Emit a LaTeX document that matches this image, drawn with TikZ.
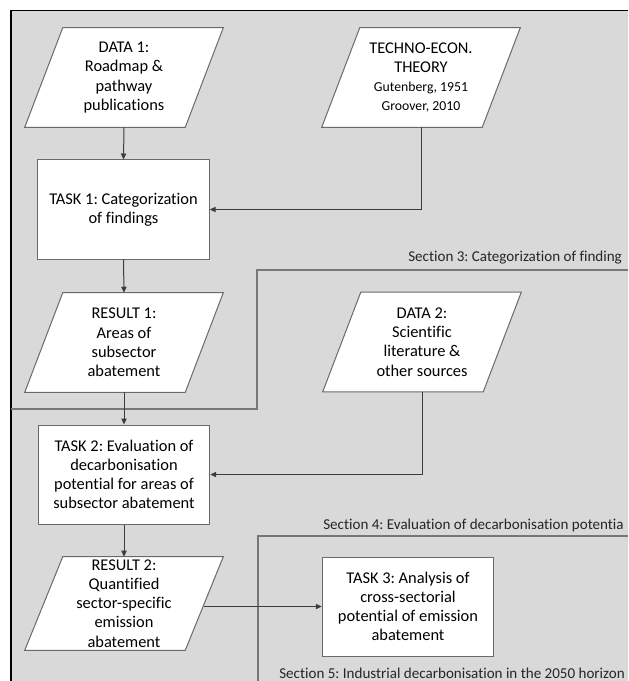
\documentclass[tikz,border=0pt]{standalone}
\usepackage{fontspec}
\setmainfont{Carlito}[Ligatures=NoCommon]
\usetikzlibrary{arrows.meta}
\definecolor{framefill}{HTML}{D9D9D9}
\definecolor{boxline}{HTML}{6A6A6A}
\definecolor{connline}{HTML}{3C3C3C}
\definecolor{secline}{HTML}{777777}
\newcommand\boxfont{\frenchspacing\fontsize{12.3}{14.4}\selectfont}
\newcommand\smallfnt{\fontsize{10.3}{11.6}\selectfont}
\newcommand\secfont{\frenchspacing\fontsize{11.3}{13.5}\selectfont}
\pgfdeclarelayer{bottomlayer}
\pgfdeclarelayer{shapelayer}
\pgfsetlayers{bottomlayer,shapelayer,main}
\newcommand\parashape[1]{%
  \begin{pgfonlayer}{shapelayer}
    \draw[draw=boxline,fill=white,line width=0.75pt]
      ([xshift=14.25pt]#1.north west) -- ([xshift=14.25pt]#1.north east) --
      ([xshift=-14.25pt]#1.south east) -- ([xshift=-14.25pt]#1.south west) -- cycle;
  \end{pgfonlayer}}
\begin{document}
\frenchspacing
\begin{tikzpicture}[x=0.75pt,y=-0.75pt,
  taskbox/.style={draw=boxline,fill=white,line width=0.75pt,minimum width=128.6pt,
    minimum height=74.25pt,align=center,font=\boxfont,inner sep=2pt},
  paranode/.style={minimum width=120pt,minimum height=74.25pt,inner sep=0pt,
    align=center,font=\boxfont},
  conn/.style={draw=connline,line width=0.75pt,-{Triangle[length=4.5pt,width=4pt]}},
  secpath/.style={draw=secline,line width=0.9pt},
  sectext/.style={font=\secfont,anchor=base west,inner sep=0pt,text=black!85},
]
\useasboundingbox (0,0) rectangle (628,681);
% outer frame
\begin{pgfonlayer}{bottomlayer}
  \fill[framefill] (11,10.5) rectangle (628,681);
  \draw[black,line width=1pt] (11,681) -- (11,10.5) -- (628,10.5);
\end{pgfonlayer}

% data / result parallelograms
\node[paranode] (d1) at (124,77.5) {DATA 1:\\Roadmap \&\\pathway\\publications};
\parashape{d1}
\node[paranode] (te) at (421,77.5) {TECHNO-ECON.\\THEORY\\{\smallfnt Gutenberg, 1951}\\{\smallfnt Groover, 2010}};
\parashape{te}
\node[paranode] (r1) at (124,342.5) {RESULT 1:\\Areas of\\subsector\\abatement};
\parashape{r1}
\node[paranode] (d2) at (422,342) {DATA 2:\\Scientific\\literature \&\\other sources};
\parashape{d2}
\node[paranode,minimum height=69.75pt] (r2) at (124,603.5) {RESULT 2:\\Quantified\\sector-specific\\emission\\abatement};
\parashape{r2}

% task boxes
\node[taskbox] (t1) at (123.5,209.5) {TASK 1: Categorization\\of findings};
\node[taskbox] (t2) at (124,474.5) {TASK 2: Evaluation of\\decarbonisation\\potential for areas of\\subsector abatement};
\node[taskbox] (t3) at (408,606.5) {TASK 3: Analysis of\\cross-sectorial\\potential of emission\\abatement};

% section boundaries
\coordinate (s3a) at (11,409);
\coordinate (s3b) at (257,409);
\coordinate (s3c) at (257,270);
\coordinate (s3d) at (628,270);
\draw[secpath] (s3a) -- (s3b) -- (s3c) -- (s3d);
\coordinate (s4a) at (258,681);
\coordinate (s4b) at (258,536);
\coordinate (s4c) at (628,536);
\draw[secpath] (s4a) -- (s4b) -- (s4c);

\node[sectext] (sec3) at (408,261) {Section 3: Categorization of finding};
\node[sectext] (sec4) at (323,529) {Section 4: Evaluation of decarbonisation potentia};
\node[sectext] (sec5) at (279,678) {Section 5: Industrial decarbonisation in the 2050 horizon};

% connectors
\draw[conn] (d1.south) -- (t1.north);
\draw[conn] (te.south) |- (t1.east);
\draw[conn] (t1.south) -- (r1.north);
\draw[conn] (r1.south) -- (t2.north);
\draw[conn] (d2.south) |- (t2.east);
\draw[conn] (t2.south) -- (r2.north);
\draw[conn] (r2.east |- t3.west) -- (t3.west);
\end{tikzpicture}
\end{document}
